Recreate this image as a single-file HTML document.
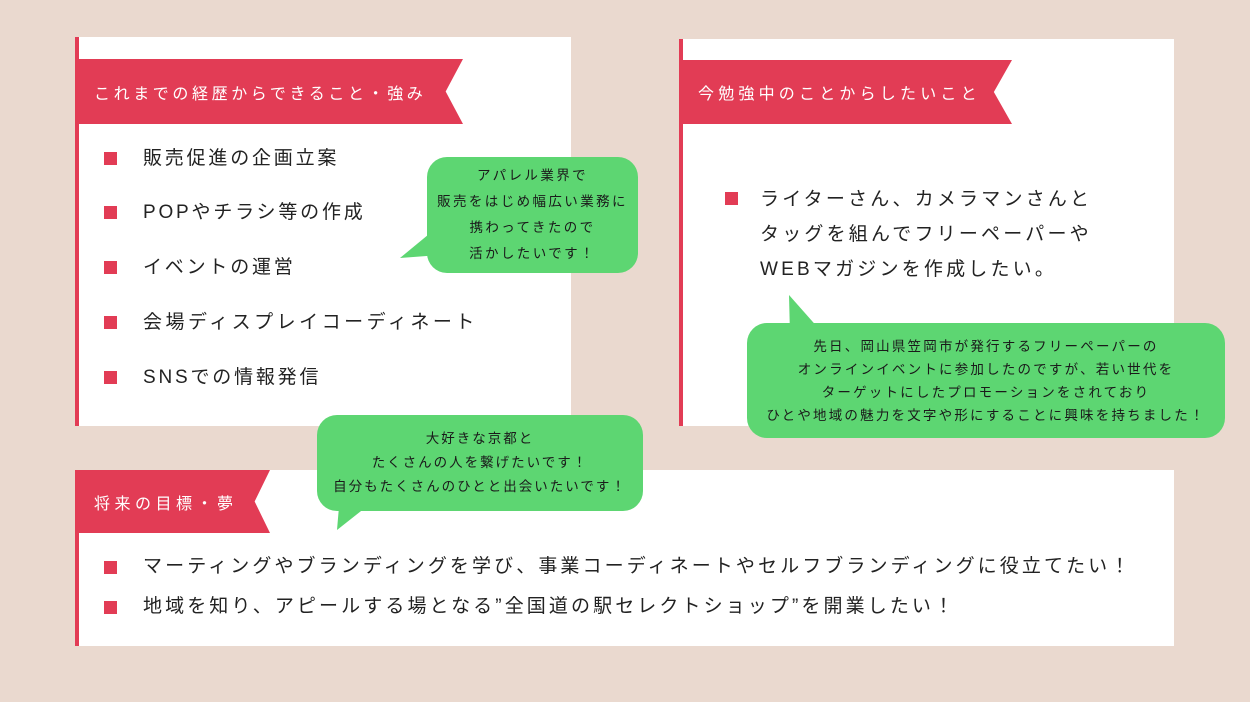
<!DOCTYPE html>
<html><head><meta charset="utf-8"><style>
*{margin:0;padding:0;box-sizing:border-box}
body{width:1250px;height:702px;background:#ead9cf;position:relative;overflow:hidden;font-family:"Liberation Sans","Noto Sans CJK JP",sans-serif;color:#222}
.panel{position:absolute;background:#fff;border-left:4px solid #e23c55}
.ban{position:absolute;background:#e23c55;color:#fff;font-size:16px;letter-spacing:3.6px;display:flex;align-items:center;padding-left:16px;white-space:nowrap}
.li{position:absolute;font-size:19px;letter-spacing:2.8px;line-height:24px;white-space:nowrap}
.sq{position:absolute;width:13px;height:13px;background:#e23c55}
.bub{position:absolute;background:#5dd672;border-radius:20px;font-size:13.5px;letter-spacing:2px;text-align:center;color:#1a1a1a;display:flex;flex-direction:column;justify-content:center;white-space:nowrap}
svg{position:absolute;left:0;top:0}
</style></head><body>
<div class="panel" style="left:75px;top:37px;width:496px;height:389px"></div>
<div class="panel" style="left:679px;top:39px;width:495px;height:387px"></div>
<div class="panel" style="left:75px;top:470px;width:1099px;height:176px"></div>

<div class="ban" style="left:78px;top:59px;width:385px;height:65px;clip-path:polygon(0 0,100% 0,95.5% 50%,100% 100%,0 100%)">これまでの経歴からできること・強み</div>
<div class="ban" style="left:682px;top:60px;width:330px;height:64px;letter-spacing:4.2px;clip-path:polygon(0 0,100% 0,94.5% 50%,100% 100%,0 100%)">今勉強中のことからしたいこと</div>
<div class="ban" style="left:78px;top:470px;width:192px;height:63px;letter-spacing:4.5px;clip-path:polygon(0 0,100% 0,92% 50%,100% 100%,0 100%)">将来の目標・夢</div>

<div class="sq" style="left:104px;top:152px"></div><div class="li" style="left:143px;top:147px">販売促進の企画立案</div>
<div class="sq" style="left:104px;top:206px"></div><div class="li" style="left:143px;top:201px">POPやチラシ等の作成</div>
<div class="sq" style="left:104px;top:261px"></div><div class="li" style="left:143px;top:256px">イベントの運営</div>
<div class="sq" style="left:104px;top:316px"></div><div class="li" style="left:143px;top:311px;letter-spacing:3.5px">会場ディスプレイコーディネート</div>
<div class="sq" style="left:104px;top:371px"></div><div class="li" style="left:143px;top:366px">SNSでの情報発信</div>

<div class="sq" style="left:725px;top:192px"></div>
<div class="li" style="left:760px;top:182px;line-height:35px;letter-spacing:3.2px">ライターさん、カメラマンさんと<br>タッグを組んでフリーペーパーや<br>WEBマガジンを作成したい。</div>

<div class="sq" style="left:104px;top:561px"></div><div class="li" style="left:143px;top:555px;letter-spacing:3.1px">マーティングやブランディングを学び、事業コーディネートやセルフブランディングに役立てたい！</div>
<div class="sq" style="left:104px;top:601px"></div><div class="li" style="left:143px;top:595px;letter-spacing:3.1px">地域を知り、アピールする場となる”全国道の駅セレクトショップ”を開業したい！</div>

<svg width="1250" height="702">
<polygon points="440,225 400,258 440,255" fill="#5dd672"/>
<polygon points="789,295 790,335 820,330" fill="#5dd672"/>
<polygon points="340,495 337,530 375,500" fill="#5dd672"/>
</svg>
<div class="bub" style="left:427px;top:157px;width:211px;height:116px;line-height:26px;letter-spacing:2.4px">アパレル業界で<br>販売をはじめ幅広い業務に<br>携わってきたので<br>活かしたいです！</div>
<div class="bub" style="left:747px;top:323px;width:478px;height:115px;line-height:23px;letter-spacing:2.2px">先日、岡山県笠岡市が発行するフリーペーパーの<br>オンラインイベントに参加したのですが、若い世代を<br>ターゲットにしたプロモーションをされており<br>ひとや地域の魅力を文字や形にすることに興味を持ちました！</div>
<div class="bub" style="left:317px;top:415px;width:326px;height:96px;line-height:24px">大好きな京都と<br>たくさんの人を繋げたいです！<br>自分もたくさんのひとと出会いたいです！</div>
</body></html>
